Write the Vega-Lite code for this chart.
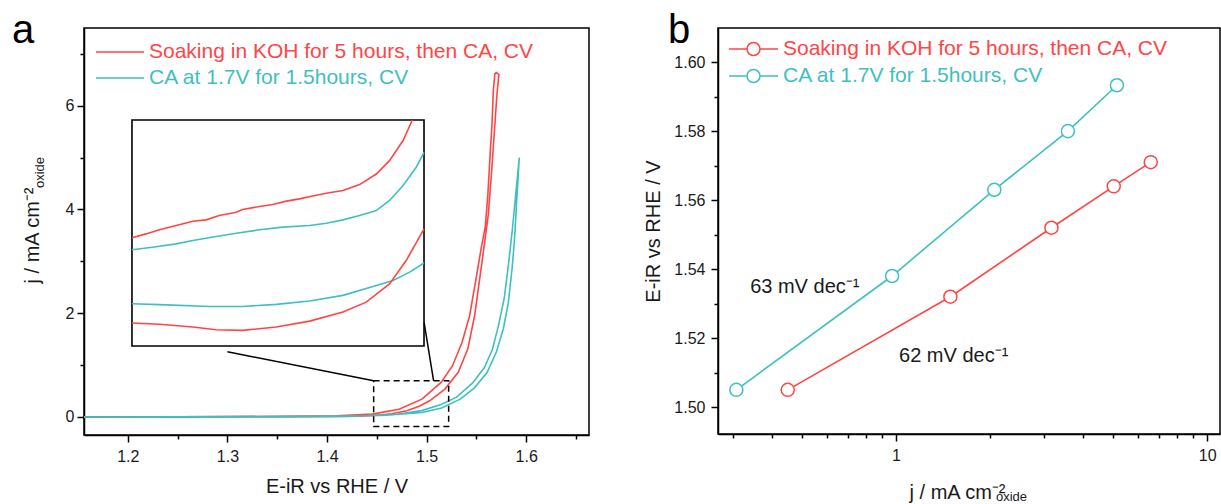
{
  "$schema": "https://vega.github.io/schema/vega-lite/v6.json",
  "background": "white",
  "padding": {"left": 11, "top": 10, "right": 2, "bottom": 2},
  "bounds": "flush",
  "spacing": 129,
  "resolve": {"scale": {"color": "independent"}, "legend": {"color": "independent"}},
  "config": {
    "font": "Liberation Sans",
    "view": {"stroke": "black", "strokeWidth": 1.5},
    "axis": {"labelFont": "Liberation Sans", "labelFontSize": 16, "labelColor": "#1a1a1a", "titleFont": "Liberation Sans", "titleFontSize": 20, "titleFontWeight": "normal", "titleColor": "#1a1a1a", "grid": false, "domainColor": "black", "domainWidth": 1.5, "tickColor": "black", "tickWidth": 1.5},
    "legend": {"padding": 0, "labelFont": "Liberation Sans", "labelFontSize": 21, "labelLimit": 600, "title": null}
  },
  "datasets": {
    "cv": [
      {"s": "Soaking in KOH for 5 hours, then CA, CV", "i": 0, "E": 1.156, "j": -0.005},
      {"s": "Soaking in KOH for 5 hours, then CA, CV", "i": 1, "E": 1.25, "j": 0.0},
      {"s": "Soaking in KOH for 5 hours, then CA, CV", "i": 2, "E": 1.35, "j": 0.004},
      {"s": "Soaking in KOH for 5 hours, then CA, CV", "i": 3, "E": 1.40, "j": 0.008},
      {"s": "Soaking in KOH for 5 hours, then CA, CV", "i": 4, "E": 1.43, "j": 0.015},
      {"s": "Soaking in KOH for 5 hours, then CA, CV", "i": 5, "E": 1.4493, "j": 0.032},
      {"s": "Soaking in KOH for 5 hours, then CA, CV", "i": 6, "E": 1.465, "j": 0.06},
      {"s": "Soaking in KOH for 5 hours, then CA, CV", "i": 7, "E": 1.48, "j": 0.116},
      {"s": "Soaking in KOH for 5 hours, then CA, CV", "i": 8, "E": 1.492, "j": 0.2},
      {"s": "Soaking in KOH for 5 hours, then CA, CV", "i": 9, "E": 1.503, "j": 0.31},
      {"s": "Soaking in KOH for 5 hours, then CA, CV", "i": 10, "E": 1.5183, "j": 0.535},
      {"s": "Soaking in KOH for 5 hours, then CA, CV", "i": 11, "E": 1.5317, "j": 0.858},
      {"s": "Soaking in KOH for 5 hours, then CA, CV", "i": 12, "E": 1.5413, "j": 1.31},
      {"s": "Soaking in KOH for 5 hours, then CA, CV", "i": 13, "E": 1.5482, "j": 1.955},
      {"s": "Soaking in KOH for 5 hours, then CA, CV", "i": 14, "E": 1.5528, "j": 2.6},
      {"s": "Soaking in KOH for 5 hours, then CA, CV", "i": 15, "E": 1.5574, "j": 3.245},
      {"s": "Soaking in KOH for 5 hours, then CA, CV", "i": 16, "E": 1.5619, "j": 3.9},
      {"s": "Soaking in KOH for 5 hours, then CA, CV", "i": 17, "E": 1.5655, "j": 4.8},
      {"s": "Soaking in KOH for 5 hours, then CA, CV", "i": 18, "E": 1.568, "j": 5.5},
      {"s": "Soaking in KOH for 5 hours, then CA, CV", "i": 19, "E": 1.5705, "j": 6.2},
      {"s": "Soaking in KOH for 5 hours, then CA, CV", "i": 20, "E": 1.5725, "j": 6.6},
      {"s": "Soaking in KOH for 5 hours, then CA, CV", "i": 21, "E": 1.570, "j": 6.64},
      {"s": "Soaking in KOH for 5 hours, then CA, CV", "i": 22, "E": 1.5685, "j": 6.62},
      {"s": "Soaking in KOH for 5 hours, then CA, CV", "i": 23, "E": 1.567, "j": 6.3},
      {"s": "Soaking in KOH for 5 hours, then CA, CV", "i": 24, "E": 1.5655, "j": 5.6},
      {"s": "Soaking in KOH for 5 hours, then CA, CV", "i": 25, "E": 1.564, "j": 5.15},
      {"s": "Soaking in KOH for 5 hours, then CA, CV", "i": 26, "E": 1.5615, "j": 4.3},
      {"s": "Soaking in KOH for 5 hours, then CA, CV", "i": 27, "E": 1.5589, "j": 3.67},
      {"s": "Soaking in KOH for 5 hours, then CA, CV", "i": 28, "E": 1.5547, "j": 3.245},
      {"s": "Soaking in KOH for 5 hours, then CA, CV", "i": 29, "E": 1.549, "j": 2.6},
      {"s": "Soaking in KOH for 5 hours, then CA, CV", "i": 30, "E": 1.5432, "j": 1.955},
      {"s": "Soaking in KOH for 5 hours, then CA, CV", "i": 31, "E": 1.5356, "j": 1.44},
      {"s": "Soaking in KOH for 5 hours, then CA, CV", "i": 32, "E": 1.526, "j": 0.987},
      {"s": "Soaking in KOH for 5 hours, then CA, CV", "i": 33, "E": 1.5145, "j": 0.665},
      {"s": "Soaking in KOH for 5 hours, then CA, CV", "i": 34, "E": 1.4953, "j": 0.342},
      {"s": "Soaking in KOH for 5 hours, then CA, CV", "i": 35, "E": 1.4723, "j": 0.148},
      {"s": "Soaking in KOH for 5 hours, then CA, CV", "i": 36, "E": 1.4454, "j": 0.052},
      {"s": "Soaking in KOH for 5 hours, then CA, CV", "i": 37, "E": 1.41, "j": 0.022},
      {"s": "Soaking in KOH for 5 hours, then CA, CV", "i": 38, "E": 1.35, "j": 0.01},
      {"s": "Soaking in KOH for 5 hours, then CA, CV", "i": 39, "E": 1.25, "j": 0.002},
      {"s": "Soaking in KOH for 5 hours, then CA, CV", "i": 40, "E": 1.156, "j": 0.0},
      {"s": "CA at 1.7V for 1.5hours, CV", "i": 0, "E": 1.156, "j": -0.008},
      {"s": "CA at 1.7V for 1.5hours, CV", "i": 1, "E": 1.25, "j": -0.005},
      {"s": "CA at 1.7V for 1.5hours, CV", "i": 2, "E": 1.35, "j": 0.0},
      {"s": "CA at 1.7V for 1.5hours, CV", "i": 3, "E": 1.42, "j": 0.01},
      {"s": "CA at 1.7V for 1.5hours, CV", "i": 4, "E": 1.46, "j": 0.03},
      {"s": "CA at 1.7V for 1.5hours, CV", "i": 5, "E": 1.4953, "j": 0.084},
      {"s": "CA at 1.7V for 1.5hours, CV", "i": 6, "E": 1.515, "j": 0.17},
      {"s": "CA at 1.7V for 1.5hours, CV", "i": 7, "E": 1.5337, "j": 0.342},
      {"s": "CA at 1.7V for 1.5hours, CV", "i": 8, "E": 1.548, "j": 0.56},
      {"s": "CA at 1.7V for 1.5hours, CV", "i": 9, "E": 1.5605, "j": 0.85},
      {"s": "CA at 1.7V for 1.5hours, CV", "i": 10, "E": 1.570, "j": 1.25},
      {"s": "CA at 1.7V for 1.5hours, CV", "i": 11, "E": 1.577, "j": 1.7},
      {"s": "CA at 1.7V for 1.5hours, CV", "i": 12, "E": 1.582, "j": 2.2},
      {"s": "CA at 1.7V for 1.5hours, CV", "i": 13, "E": 1.586, "j": 2.9},
      {"s": "CA at 1.7V for 1.5hours, CV", "i": 14, "E": 1.5885, "j": 3.5},
      {"s": "CA at 1.7V for 1.5hours, CV", "i": 15, "E": 1.5905, "j": 4.2},
      {"s": "CA at 1.7V for 1.5hours, CV", "i": 16, "E": 1.593, "j": 5.0},
      {"s": "CA at 1.7V for 1.5hours, CV", "i": 17, "E": 1.5915, "j": 4.7},
      {"s": "CA at 1.7V for 1.5hours, CV", "i": 18, "E": 1.5895, "j": 4.3},
      {"s": "CA at 1.7V for 1.5hours, CV", "i": 19, "E": 1.586, "j": 3.6},
      {"s": "CA at 1.7V for 1.5hours, CV", "i": 20, "E": 1.5825, "j": 3.0},
      {"s": "CA at 1.7V for 1.5hours, CV", "i": 21, "E": 1.578, "j": 2.3},
      {"s": "CA at 1.7V for 1.5hours, CV", "i": 22, "E": 1.572, "j": 1.75},
      {"s": "CA at 1.7V for 1.5hours, CV", "i": 23, "E": 1.566, "j": 1.3},
      {"s": "CA at 1.7V for 1.5hours, CV", "i": 24, "E": 1.558, "j": 0.95},
      {"s": "CA at 1.7V for 1.5hours, CV", "i": 25, "E": 1.546, "j": 0.65},
      {"s": "CA at 1.7V for 1.5hours, CV", "i": 26, "E": 1.53, "j": 0.38},
      {"s": "CA at 1.7V for 1.5hours, CV", "i": 27, "E": 1.5145, "j": 0.24},
      {"s": "CA at 1.7V for 1.5hours, CV", "i": 28, "E": 1.495, "j": 0.12},
      {"s": "CA at 1.7V for 1.5hours, CV", "i": 29, "E": 1.47, "j": 0.05},
      {"s": "CA at 1.7V for 1.5hours, CV", "i": 30, "E": 1.44, "j": 0.02},
      {"s": "CA at 1.7V for 1.5hours, CV", "i": 31, "E": 1.35, "j": 0.005},
      {"s": "CA at 1.7V for 1.5hours, CV", "i": 32, "E": 1.25, "j": 0.0},
      {"s": "CA at 1.7V for 1.5hours, CV", "i": 33, "E": 1.156, "j": -0.003}
    ],
    "inset": [
      {"s": "Soaking in KOH for 5 hours, then CA, CV", "b": "up", "E": 1.4468, "j": 0.0479},
      {"s": "Soaking in KOH for 5 hours, then CA, CV", "b": "up", "E": 1.4504, "j": 0.0496},
      {"s": "Soaking in KOH for 5 hours, then CA, CV", "b": "up", "E": 1.4539, "j": 0.0514},
      {"s": "Soaking in KOH for 5 hours, then CA, CV", "b": "up", "E": 1.4582, "j": 0.0533},
      {"s": "Soaking in KOH for 5 hours, then CA, CV", "b": "up", "E": 1.4625, "j": 0.0552},
      {"s": "Soaking in KOH for 5 hours, then CA, CV", "b": "up", "E": 1.4659, "j": 0.0558},
      {"s": "Soaking in KOH for 5 hours, then CA, CV", "b": "up", "E": 1.4693, "j": 0.0577},
      {"s": "Soaking in KOH for 5 hours, then CA, CV", "b": "up", "E": 1.4737, "j": 0.0592},
      {"s": "Soaking in KOH for 5 hours, then CA, CV", "b": "up", "E": 1.4753, "j": 0.0604},
      {"s": "Soaking in KOH for 5 hours, then CA, CV", "b": "up", "E": 1.4797, "j": 0.0617},
      {"s": "Soaking in KOH for 5 hours, then CA, CV", "b": "up", "E": 1.4831, "j": 0.0626},
      {"s": "Soaking in KOH for 5 hours, then CA, CV", "b": "up", "E": 1.4866, "j": 0.0641},
      {"s": "Soaking in KOH for 5 hours, then CA, CV", "b": "up", "E": 1.4900, "j": 0.0651},
      {"s": "Soaking in KOH for 5 hours, then CA, CV", "b": "up", "E": 1.4934, "j": 0.0664},
      {"s": "Soaking in KOH for 5 hours, then CA, CV", "b": "up", "E": 1.4969, "j": 0.0676},
      {"s": "Soaking in KOH for 5 hours, then CA, CV", "b": "up", "E": 1.5012, "j": 0.0688},
      {"s": "Soaking in KOH for 5 hours, then CA, CV", "b": "up", "E": 1.5055, "j": 0.0714},
      {"s": "Soaking in KOH for 5 hours, then CA, CV", "b": "up", "E": 1.5098, "j": 0.0761},
      {"s": "Soaking in KOH for 5 hours, then CA, CV", "b": "up", "E": 1.5132, "j": 0.0820},
      {"s": "Soaking in KOH for 5 hours, then CA, CV", "b": "up", "E": 1.5167, "j": 0.0909},
      {"s": "Soaking in KOH for 5 hours, then CA, CV", "b": "up", "E": 1.5191, "j": 0.1000},
      {"s": "CA at 1.7V for 1.5hours, CV", "b": "up", "E": 1.4468, "j": 0.0426},
      {"s": "CA at 1.7V for 1.5hours, CV", "b": "up", "E": 1.4521, "j": 0.0437},
      {"s": "CA at 1.7V for 1.5hours, CV", "b": "up", "E": 1.4582, "j": 0.0452},
      {"s": "CA at 1.7V for 1.5hours, CV", "b": "up", "E": 1.4625, "j": 0.0467},
      {"s": "CA at 1.7V for 1.5hours, CV", "b": "up", "E": 1.4677, "j": 0.0482},
      {"s": "CA at 1.7V for 1.5hours, CV", "b": "up", "E": 1.4737, "j": 0.0499},
      {"s": "CA at 1.7V for 1.5hours, CV", "b": "up", "E": 1.4797, "j": 0.0514},
      {"s": "CA at 1.7V for 1.5hours, CV", "b": "up", "E": 1.4857, "j": 0.0526},
      {"s": "CA at 1.7V for 1.5hours, CV", "b": "up", "E": 1.4926, "j": 0.0533},
      {"s": "CA at 1.7V for 1.5hours, CV", "b": "up", "E": 1.4969, "j": 0.0543},
      {"s": "CA at 1.7V for 1.5hours, CV", "b": "up", "E": 1.5012, "j": 0.0558},
      {"s": "CA at 1.7V for 1.5hours, CV", "b": "up", "E": 1.5055, "j": 0.0577},
      {"s": "CA at 1.7V for 1.5hours, CV", "b": "up", "E": 1.5098, "j": 0.0599},
      {"s": "CA at 1.7V for 1.5hours, CV", "b": "up", "E": 1.5132, "j": 0.0644},
      {"s": "CA at 1.7V for 1.5hours, CV", "b": "up", "E": 1.5167, "j": 0.0710},
      {"s": "CA at 1.7V for 1.5hours, CV", "b": "up", "E": 1.5201, "j": 0.0791},
      {"s": "CA at 1.7V for 1.5hours, CV", "b": "up", "E": 1.5221, "j": 0.0857},
      {"s": "CA at 1.7V for 1.5hours, CV", "b": "low", "E": 1.4468, "j": 0.0187},
      {"s": "CA at 1.7V for 1.5hours, CV", "b": "low", "E": 1.4539, "j": 0.0183},
      {"s": "CA at 1.7V for 1.5hours, CV", "b": "low", "E": 1.4668, "j": 0.0175},
      {"s": "CA at 1.7V for 1.5hours, CV", "b": "low", "E": 1.4753, "j": 0.0175},
      {"s": "CA at 1.7V for 1.5hours, CV", "b": "low", "E": 1.4840, "j": 0.0184},
      {"s": "CA at 1.7V for 1.5hours, CV", "b": "low", "E": 1.4926, "j": 0.0199},
      {"s": "CA at 1.7V for 1.5hours, CV", "b": "low", "E": 1.5012, "j": 0.0224},
      {"s": "CA at 1.7V for 1.5hours, CV", "b": "low", "E": 1.5098, "j": 0.0268},
      {"s": "CA at 1.7V for 1.5hours, CV", "b": "low", "E": 1.5141, "j": 0.0290},
      {"s": "CA at 1.7V for 1.5hours, CV", "b": "low", "E": 1.5184, "j": 0.0327},
      {"s": "CA at 1.7V for 1.5hours, CV", "b": "low", "E": 1.5221, "j": 0.0367},
      {"s": "Soaking in KOH for 5 hours, then CA, CV", "b": "low", "E": 1.4468, "j": 0.0102},
      {"s": "Soaking in KOH for 5 hours, then CA, CV", "b": "low", "E": 1.4539, "j": 0.0096},
      {"s": "Soaking in KOH for 5 hours, then CA, CV", "b": "low", "E": 1.4625, "j": 0.0084},
      {"s": "Soaking in KOH for 5 hours, then CA, CV", "b": "low", "E": 1.4685, "j": 0.0072},
      {"s": "Soaking in KOH for 5 hours, then CA, CV", "b": "low", "E": 1.4753, "j": 0.0069},
      {"s": "Soaking in KOH for 5 hours, then CA, CV", "b": "low", "E": 1.4840, "j": 0.0084},
      {"s": "Soaking in KOH for 5 hours, then CA, CV", "b": "low", "E": 1.4926, "j": 0.0110},
      {"s": "Soaking in KOH for 5 hours, then CA, CV", "b": "low", "E": 1.5012, "j": 0.0150},
      {"s": "Soaking in KOH for 5 hours, then CA, CV", "b": "low", "E": 1.5072, "j": 0.0194},
      {"s": "Soaking in KOH for 5 hours, then CA, CV", "b": "low", "E": 1.5132, "j": 0.0275},
      {"s": "Soaking in KOH for 5 hours, then CA, CV", "b": "low", "E": 1.5175, "j": 0.0378},
      {"s": "Soaking in KOH for 5 hours, then CA, CV", "b": "low", "E": 1.5221, "j": 0.0518}
    ],
    "tafel": [
      {"s": "Soaking in KOH for 5 hours, then CA, CV", "j": 0.449, "E": 1.505},
      {"s": "Soaking in KOH for 5 hours, then CA, CV", "j": 1.496, "E": 1.532},
      {"s": "Soaking in KOH for 5 hours, then CA, CV", "j": 3.16, "E": 1.552},
      {"s": "Soaking in KOH for 5 hours, then CA, CV", "j": 5.01, "E": 1.564},
      {"s": "Soaking in KOH for 5 hours, then CA, CV", "j": 6.59, "E": 1.571},
      {"s": "CA at 1.7V for 1.5hours, CV", "j": 0.307, "E": 1.505},
      {"s": "CA at 1.7V for 1.5hours, CV", "j": 0.972, "E": 1.538},
      {"s": "CA at 1.7V for 1.5hours, CV", "j": 2.07, "E": 1.563},
      {"s": "CA at 1.7V for 1.5hours, CV", "j": 3.57, "E": 1.580},
      {"s": "CA at 1.7V for 1.5hours, CV", "j": 5.13, "E": 1.5933}
    ]
  },
  "hconcat": [
    {
      "width": 505,
      "height": 407,
      "title": {"text": "a", "anchor": "start", "frame": "group", "fontSize": 40, "fontWeight": "normal", "baseline": "alphabetic", "offset": 0, "dx": -72, "dy": 55, "color": "black"},
      "resolve": {"scale": {"x": "independent", "y": "independent", "color": "shared"}, "axis": {"x": "independent", "y": "independent"}},
      "layer": [
        {
          "data": {"name": "cv"},
          "mark": {"type": "line", "strokeWidth": 1.6, "clip": true},
          "encoding": {
            "x": {"field": "E", "type": "quantitative", "scale": {"domain": [1.156, 1.663], "nice": false, "zero": false},
              "axis": {"title": "E-iR vs RHE / V", "values": [1.2, 1.25, 1.3, 1.35, 1.4, 1.45, 1.5, 1.55, 1.6, 1.65],
                "labelExpr": "abs(datum.value*10-round(datum.value*10)) < 0.001 ? format(datum.value, '.1f') : ''",
                "tickSize": {"condition": {"test": "abs(datum.value*10-round(datum.value*10)) < 0.001", "value": 7}, "value": 4},
                "labelPadding": 6, "titlePadding": 12}},
            "y": {"field": "j", "type": "quantitative", "scale": {"domain": [-0.35, 7.5], "nice": false, "zero": false},
              "axis": {"title": "j / mA cm⁻²", "values": [0, 1, 2, 3, 4, 5, 6, 7],
                "labelExpr": "datum.value % 2 == 0 ? format(datum.value, 'd') : ''",
                "tickSize": {"condition": {"test": "datum.value % 2 == 0", "value": 7}, "value": 4},
                "labelPadding": 3, "titleAngle": 270, "titleX": -46, "titleY": 207, "titleAlign": "center", "titleBaseline": "alphabetic"}},
            "color": {"field": "s", "type": "nominal",
              "scale": {"domain": ["Soaking in KOH for 5 hours, then CA, CV", "CA at 1.7V for 1.5hours, CV"], "range": ["#FF4545", "#3FC0C0"]},
              "legend": {"orient": "none", "legendX": 25, "legendY": 13, "symbolType": "M-2.4,0L2.4,0", "symbolSize": 400, "symbolStrokeWidth": 1.6, "symbolFillColor": "white", "labelOffset": 18, "rowPadding": 5,
                "labelColor": {"expr": "datum.value == 'CA at 1.7V for 1.5hours, CV' ? '#3FC0C0' : '#FF4545'"}}},
            "order": {"field": "i", "type": "quantitative"}
          }
        },
        {
          "data": {"values": [{}]},
          "mark": {"type": "rect", "filled": false, "stroke": "black", "strokeWidth": 1.5, "strokeDash": [6, 4]},
          "encoding": {
            "x": {"datum": 1.4468, "type": "quantitative", "scale": {"domain": [1.156, 1.663], "nice": false, "zero": false}, "axis": null},
            "x2": {"datum": 1.5221},
            "y": {"datum": -0.187, "type": "quantitative", "scale": {"domain": [-0.35, 7.5], "nice": false, "zero": false},
              "axis": {"title": "oxide", "orient": "left", "labels": false, "ticks": false, "domain": false, "titleFontSize": 13, "titleAngle": 270, "titleX": -41, "titleY": 144, "titleAlign": "center", "titleBaseline": "alphabetic"}},
            "y2": {"datum": 0.695}
          }
        },
        {
          "data": {"values": [{}]},
          "mark": {"type": "rule", "stroke": "black", "strokeWidth": 1.5},
          "encoding": {
            "x": {"datum": 1.30, "type": "quantitative", "scale": {"domain": [1.156, 1.663], "nice": false, "zero": false}, "axis": null},
            "x2": {"datum": 1.4468},
            "y": {"datum": 1.255, "type": "quantitative", "scale": {"domain": [-0.35, 7.5], "nice": false, "zero": false}, "axis": null},
            "y2": {"datum": 0.695}
          }
        },
        {
          "data": {"values": [{}]},
          "mark": {"type": "rule", "stroke": "black", "strokeWidth": 1.5},
          "encoding": {
            "x": {"datum": 1.4975, "type": "quantitative", "scale": {"domain": [1.156, 1.663], "nice": false, "zero": false}, "axis": null},
            "x2": {"datum": 1.507},
            "y": {"datum": 1.815, "type": "quantitative", "scale": {"domain": [-0.35, 7.5], "nice": false, "zero": false}, "axis": null},
            "y2": {"datum": 0.695}
          }
        },
        {
          "data": {"values": [{}]},
          "mark": {"type": "rect", "filled": false, "stroke": "black", "strokeWidth": 1.6},
          "encoding": {
            "x": {"datum": 1.4468, "type": "quantitative", "scale": {"domain": [1.43443, 1.56464], "nice": false, "zero": false}, "axis": null},
            "x2": {"datum": 1.5221},
            "y": {"datum": 0, "type": "quantitative", "scale": {"domain": [-0.03938, 0.1407], "nice": false, "zero": false}, "axis": null},
            "y2": {"datum": 0.1}
          }
        },
        {
          "data": {"name": "inset"},
          "mark": {"type": "line", "strokeWidth": 1.6},
          "encoding": {
            "x": {"field": "E", "type": "quantitative", "scale": {"domain": [1.43443, 1.56464], "nice": false, "zero": false}, "axis": null},
            "y": {"field": "j", "type": "quantitative", "scale": {"domain": [-0.03938, 0.1407], "nice": false, "zero": false}, "axis": null},
            "color": {"field": "s", "type": "nominal"},
            "detail": {"field": "b", "type": "nominal"}
          }
        }
      ]
    },
    {
      "width": 502,
      "height": 406,
      "title": {"text": "b", "anchor": "start", "frame": "group", "fontSize": 40, "fontWeight": "normal", "baseline": "alphabetic", "offset": 0, "dx": -50, "dy": 55, "color": "black"},
      "resolve": {"scale": {"x": "independent", "y": "independent", "color": "shared"}, "axis": {"x": "independent", "y": "independent"}},
      "layer": [
        {
          "data": {"name": "tafel"},
          "mark": {"type": "line", "strokeWidth": 1.6},
          "encoding": {
            "x": {"field": "j", "type": "quantitative", "scale": {"type": "log", "domain": [0.268, 11.0], "nice": false},
              "axis": {"title": "j / mA cm⁻²", "values": [0.3, 0.4, 0.5, 0.6, 0.7, 0.8, 0.9, 1, 2, 3, 4, 5, 6, 7, 8, 9, 10],
                "labelExpr": "(datum.value == 1 || datum.value == 10) ? format(datum.value, 'd') : ''",
                "tickSize": {"condition": {"test": "datum.value == 1 || datum.value == 10", "value": 7}, "value": 4},
                "labelPadding": 6, "titleX": 239, "titleY": 64, "titleAlign": "center", "titleBaseline": "alphabetic"}},
            "y": {"field": "E", "type": "quantitative", "scale": {"domain": [1.4922, 1.6099], "nice": false, "zero": false},
              "axis": {"title": "E-iR vs RHE / V", "values": [1.5, 1.51, 1.52, 1.53, 1.54, 1.55, 1.56, 1.57, 1.58, 1.59, 1.6],
                "labelExpr": "round(datum.value*100) % 2 == 0 ? format(datum.value, '.2f') : ''",
                "tickSize": {"condition": {"test": "round(datum.value*100) % 2 == 0", "value": 7}, "value": 4},
                "labelPadding": 6, "titlePadding": 10}},
            "color": {"field": "s", "type": "nominal",
              "scale": {"domain": ["Soaking in KOH for 5 hours, then CA, CV", "CA at 1.7V for 1.5hours, CV"], "range": ["#FF4545", "#3FC0C0"]},
              "legend": {"orient": "none", "legendX": 24.5, "legendY": 10, "symbolType": "M-2.45,0L-0.65,0M0.65,0L2.45,0M-0.65,0A0.65,0.65,0,1,1,0.65,0A0.65,0.65,0,1,1,-0.65,0Z", "symbolSize": 400, "symbolStrokeWidth": 1.5, "symbolFillColor": "white", "labelOffset": 18.5, "rowPadding": 6,
                "labelColor": {"expr": "datum.value == 'CA at 1.7V for 1.5hours, CV' ? '#3FC0C0' : '#FF4545'"}}}
          }
        },
        {
          "data": {"name": "tafel"},
          "mark": {"type": "point", "filled": false, "fill": "white", "fillOpacity": 1, "opacity": 1, "size": 170, "strokeWidth": 1.5},
          "encoding": {
            "x": {"field": "j", "type": "quantitative", "scale": {"type": "log", "domain": [0.268, 11.0], "nice": false}, "axis": null},
            "y": {"field": "E", "type": "quantitative", "scale": {"domain": [1.4922, 1.6099], "nice": false, "zero": false}, "axis": null},
            "color": {"field": "s", "type": "nominal"}
          }
        },
        {
          "data": {"values": [{}]},
          "mark": {"type": "text", "text": "63 mV dec⁻¹", "align": "left", "baseline": "alphabetic", "fontSize": 20, "color": "#1a1a1a"},
          "encoding": {
            "x": {"datum": 0.34, "type": "quantitative", "scale": {"type": "log", "domain": [0.268, 11.0], "nice": false},
              "axis": {"title": "oxide", "orient": "bottom", "labels": false, "ticks": false, "domain": false, "titleFontSize": 13, "titleX": 293, "titleY": 66, "titleAlign": "center", "titleBaseline": "alphabetic"}},
            "y": {"datum": 1.5332, "type": "quantitative", "scale": {"domain": [1.4922, 1.6099], "nice": false, "zero": false}, "axis": null}
          }
        },
        {
          "data": {"values": [{}]},
          "mark": {"type": "text", "text": "62 mV dec⁻¹", "align": "left", "baseline": "alphabetic", "fontSize": 20, "color": "#1a1a1a"},
          "encoding": {
            "x": {"datum": 1.023, "type": "quantitative", "scale": {"type": "log", "domain": [0.268, 11.0], "nice": false}, "axis": null},
            "y": {"datum": 1.5132, "type": "quantitative", "scale": {"domain": [1.4922, 1.6099], "nice": false, "zero": false}, "axis": null}
          }
        }
      ]
    }
  ]
}
